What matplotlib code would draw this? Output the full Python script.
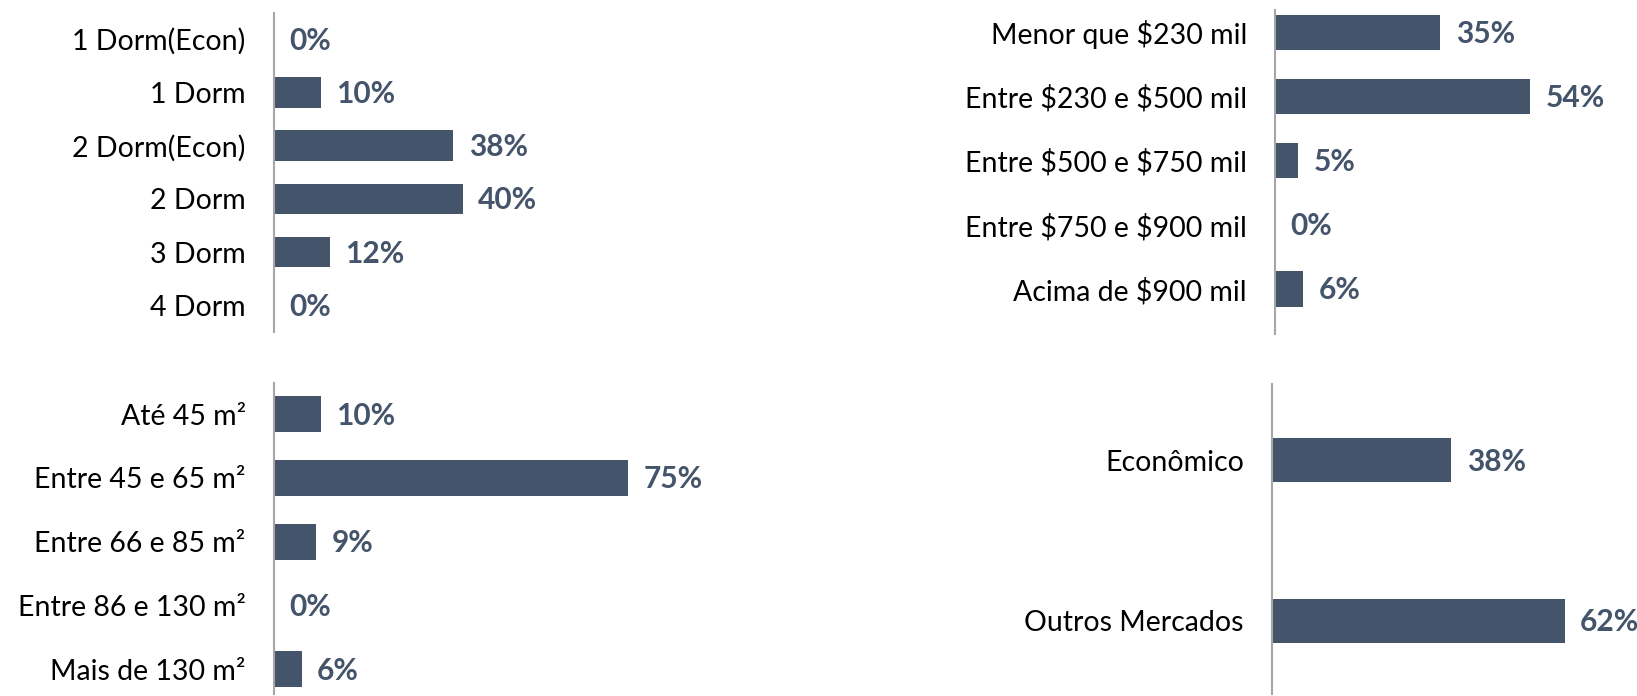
import matplotlib
matplotlib.use("Agg")
import matplotlib.pyplot as plt

plt.rcParams['font.family'] = ['Lato', 'DejaVu Sans']
plt.rcParams['text.parse_math'] = False

# dados
dorm_cats = ["1 Dorm(Econ)", "1 Dorm", "2 Dorm(Econ)", "2 Dorm", "3 Dorm", "4 Dorm"]
dorm_vals = [0, 10, 38, 40, 12, 0]

preco_cats = ["Menor que $230 mil", "Entre $230 e $500 mil", "Entre $500 e $750 mil",
              "Entre $750 e $900 mil", "Acima de $900 mil"]
preco_vals = [35, 54, 5, 0, 6]

area_cats = ["Até 45 m²", "Entre 45 e 65 m²", "Entre 66 e 85 m²",
             "Entre 86 e 130 m²", "Mais de 130 m²"]
area_vals = [10, 75, 9, 0, 6]

merc_cats = ["Econômico", "Outros Mercados"]
merc_vals = [38, 62]

COR = "#44546A"
W, H = 1637, 696
PX_POR_PCT = 4.73


def painel(fig, esq, topo, base, xmax, cats, vals, altura, ylim):
    larg = xmax * PX_POR_PCT
    ax = fig.add_axes([esq / W, (H - base) / H, larg / W, (base - topo) / H])
    y = list(range(len(cats)))
    ax.barh(y, vals, height=altura, color=COR)
    ax.set_ylim(*ylim)
    ax.set_xlim(0, xmax)
    ax.set_yticks(y)
    ax.set_yticklabels(cats, fontsize=20.5, color="black")
    ax.tick_params(axis='y', length=0, pad=20)
    ax.set_xticks([])
    for s in ["top", "right", "bottom"]:
        ax.spines[s].set_visible(False)
    ax.spines["left"].set_color("#A6A6A6")
    ax.spines["left"].set_linewidth(1.5)
    for yi, v in zip(y, vals):
        ax.annotate(f"{v}%", (v, yi), xytext=(11, -1), textcoords="offset points",
                    va="center", ha="left", fontsize=21.5, fontweight="bold",
                    color=COR, annotation_clip=False)
    return ax


fig = plt.figure(figsize=(W / 100, H / 100), dpi=100)

painel(fig, 273.5, 12.5, 332, 60, dorm_cats, dorm_vals, 0.57, (5.5, -0.5))
painel(fig, 1274.7, 10.4, 334, 60, preco_cats, preco_vals, 0.55, (4.70, -0.34))
painel(fig, 273.5, 383, 694, 80, area_cats, area_vals, 0.56, (4.39, -0.49))
painel(fig, 1271.6, 384, 694, 66, merc_cats, merc_vals, 0.27, (1.455, -0.474))

fig.savefig("out.png", dpi=100)
